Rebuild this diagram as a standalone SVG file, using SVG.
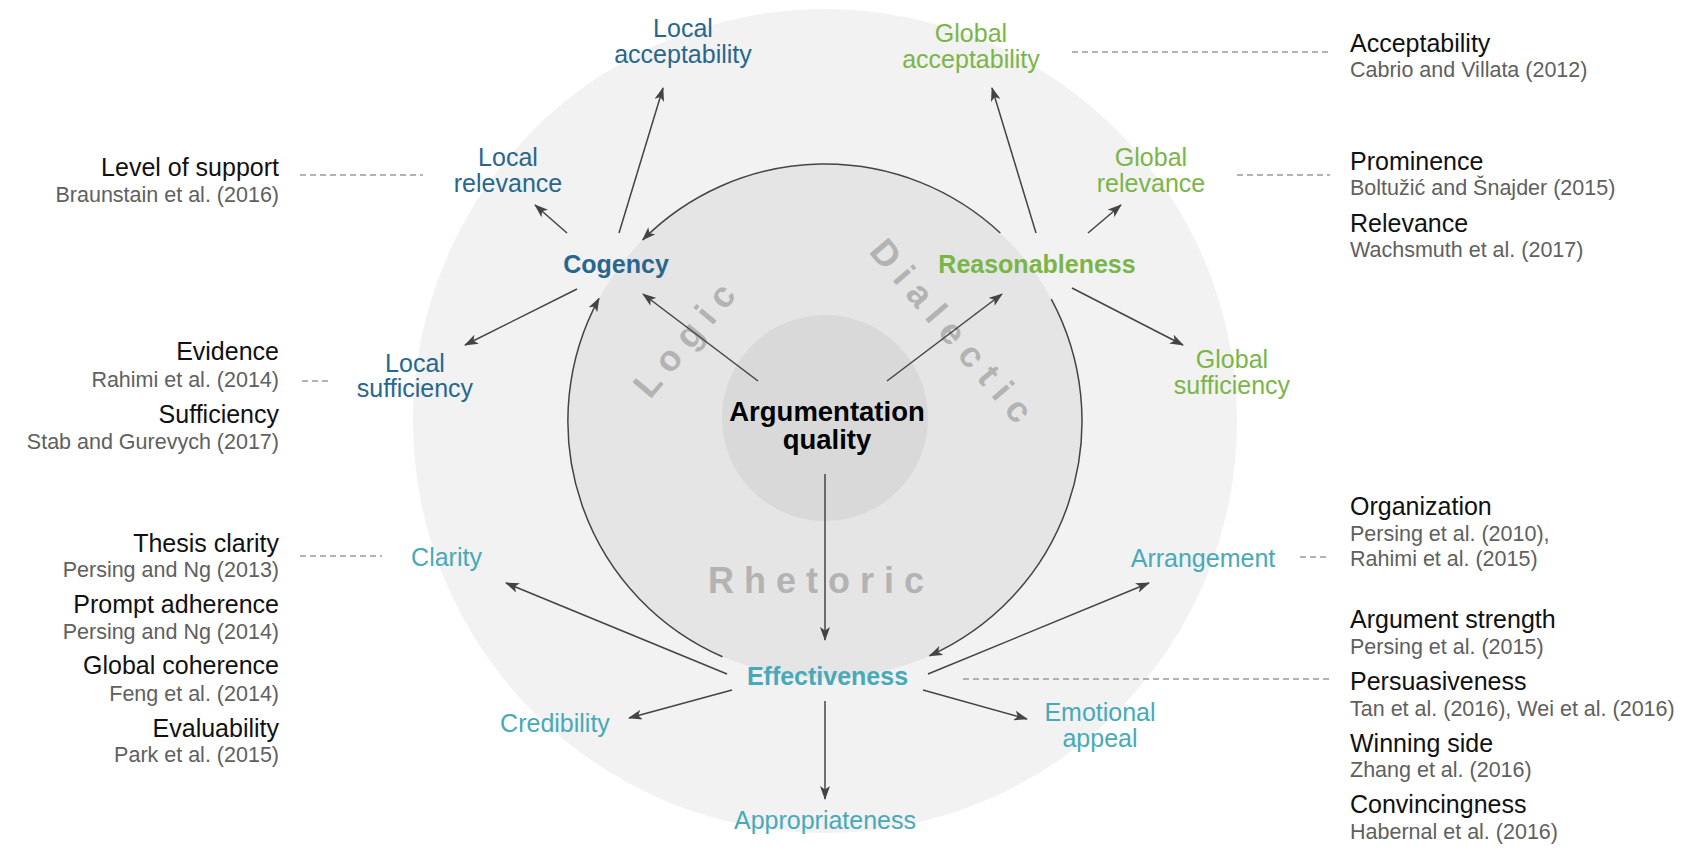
<svg xmlns="http://www.w3.org/2000/svg" width="1704" height="852" viewBox="0 0 1704 852">
<defs>
<style>
text{font-family:"Liberation Sans",Arial,Helvetica,sans-serif}
.lbl{font-size:25px;text-anchor:middle}
.b{font-weight:bold}
.lo{fill:#27678f}
.di{fill:#7ab548}
.rh{fill:#48a9b9}
.h{font-size:25px;fill:#111}
.c{font-size:21.5px;fill:#606060}
.e{text-anchor:end}
.arr{stroke:#444;stroke-width:1.5;fill:none;marker-end:url(#ah)}
.dash{stroke:#9a9a9a;stroke-width:1.5;stroke-dasharray:6 4;fill:none}
.wm{font-size:36px;font-weight:bold;fill:#b3b3b3;letter-spacing:10px}
</style>
<marker id="ah" viewBox="0 0 14 10" refX="13" refY="5" markerWidth="14" markerHeight="10" markerUnits="userSpaceOnUse" orient="auto">
<path d="M0,0 L14,5 L0,10 L3.5,5 z" fill="#444"/>
</marker>
</defs>
<rect width="1704" height="852" fill="#fff"/>
<g id="circles">
<circle cx="825" cy="421" r="412" fill="#f2f2f2"/>
<circle cx="825" cy="421" r="257" fill="#e5e5e5"/>
<circle cx="825" cy="418" r="103" fill="#d9d9d9"/>
</g>
<g id="dimension-labels">
<text class="wm" transform="translate(650,400) rotate(-50)">Logic</text>
<text class="wm" transform="translate(868,252) rotate(49.5)">Dialectic</text>
<text class="wm" x="708" y="593">Rhetoric</text>
</g>
<g id="connectors">
<path class="arr" d="M1000.3,233 A257,257 0 0 0 642.7,239.9"/>
<path class="arr" d="M722.5,656.7 A257,257 0 0 1 599,298.4"/>
<path class="arr" d="M1051.3,299.2 A257,257 0 0 1 929.5,655.8"/>
<line class="arr" x1="758" y1="381" x2="643" y2="294"/>
<line class="arr" x1="887" y1="381" x2="1002" y2="294"/>
<line class="arr" x1="825" y1="474" x2="825" y2="640"/>
<line class="arr" x1="619" y1="233" x2="663" y2="88"/>
<line class="arr" x1="567" y1="233" x2="535" y2="205"/>
<line class="arr" x1="577" y1="289" x2="465" y2="345"/>
<line class="arr" x1="1036" y1="233" x2="992" y2="88"/>
<line class="arr" x1="1088" y1="233" x2="1121" y2="205"/>
<line class="arr" x1="1072" y1="288" x2="1183" y2="345"/>
<line class="arr" x1="727" y1="674" x2="506" y2="583"/>
<line class="arr" x1="732" y1="690" x2="629" y2="718"/>
<line class="arr" x1="825" y1="701" x2="825" y2="799"/>
<line class="arr" x1="928" y1="674" x2="1149" y2="583"/>
<line class="arr" x1="923" y1="690" x2="1027" y2="719"/>
<line class="dash" x1="300" y1="175" x2="423" y2="175"/>
<line class="dash" x1="302" y1="381" x2="332" y2="381"/>
<line class="dash" x1="300" y1="556" x2="382" y2="556"/>
<line class="dash" x1="1072" y1="52" x2="1330" y2="52"/>
<line class="dash" x1="1237" y1="175" x2="1330" y2="175"/>
<line class="dash" x1="1300" y1="557" x2="1330" y2="557"/>
<line class="dash" x1="963" y1="679" x2="1330" y2="679"/>
</g>
<g id="argumentation-quality"><text class="lbl b" style="font-size:27.5px" fill="#000" x="827" y="420.5">Argumentation<tspan x="827" dy="28.5">quality</tspan></text></g>
<g id="cogency"><text class="lbl b lo" x="616" y="273">Cogency</text></g>
<g id="reasonableness"><text class="lbl b di" x="1037" y="273">Reasonableness</text></g>
<g id="effectiveness"><text class="lbl b rh" x="827.5" y="685">Effectiveness</text></g>
<g id="local-acceptability"><text class="lbl lo" x="683" y="37">Local<tspan x="683" dy="26">acceptability</tspan></text></g>
<g id="local-relevance"><text class="lbl lo" x="508" y="166">Local<tspan x="508" dy="25.5">relevance</tspan></text></g>
<g id="local-sufficiency"><text class="lbl lo" x="415" y="371.5">Local<tspan x="415" dy="25.5">sufficiency</tspan></text></g>
<g id="global-acceptability"><text class="lbl di" x="971" y="42">Global<tspan x="971" dy="25.5">acceptability</tspan></text></g>
<g id="global-relevance"><text class="lbl di" x="1151" y="166">Global<tspan x="1151" dy="25.5">relevance</tspan></text></g>
<g id="global-sufficiency"><text class="lbl di" x="1232" y="368">Global<tspan x="1232" dy="25.5">sufficiency</tspan></text></g>
<g id="clarity"><text class="lbl rh" x="446.5" y="566">Clarity</text></g>
<g id="credibility"><text class="lbl rh" x="555" y="731.5">Credibility</text></g>
<g id="appropriateness"><text class="lbl rh" x="825" y="829">Appropriateness</text></g>
<g id="arrangement"><text class="lbl rh" x="1203" y="566.5">Arrangement</text></g>
<g id="emotional-appeal"><text class="lbl rh" x="1100" y="721">Emotional<tspan x="1100" dy="25.5">appeal</tspan></text></g>
<g id="ref-level-of-support"><text class="h e" x="279" y="175.7">Level of support</text><text class="c e" x="279" y="201.7">Braunstain et al. (2016)</text></g>
<g id="ref-evidence"><text class="h e" x="279" y="360">Evidence</text><text class="c e" x="279" y="386.7">Rahimi et al. (2014)</text></g>
<g id="ref-sufficiency"><text class="h e" x="279" y="422.7">Sufficiency</text><text class="c e" x="279" y="448.5">Stab and Gurevych (2017)</text></g>
<g id="ref-thesis-clarity"><text class="h e" x="279" y="551.7">Thesis clarity</text><text class="c e" x="279" y="576.7">Persing and Ng (2013)</text></g>
<g id="ref-prompt-adherence"><text class="h e" x="279" y="613.3">Prompt adherence</text><text class="c e" x="279" y="639.3">Persing and Ng (2014)</text></g>
<g id="ref-global-coherence"><text class="h e" x="279" y="674.3">Global coherence</text><text class="c e" x="279" y="700.7">Feng et al. (2014)</text></g>
<g id="ref-evaluability"><text class="h e" x="279" y="736.7">Evaluability</text><text class="c e" x="279" y="761.7">Park et al. (2015)</text></g>
<g id="ref-acceptability"><text class="h" x="1350" y="52.3">Acceptability</text><text class="c" x="1350" y="77.3">Cabrio and Villata (2012)</text></g>
<g id="ref-prominence"><text class="h" x="1350" y="170">Prominence</text><text class="c" x="1350" y="195">Boltužić and Šnajder (2015)</text></g>
<g id="ref-relevance"><text class="h" x="1350" y="231.7">Relevance</text><text class="c" x="1350" y="256.7">Wachsmuth et al. (2017)</text></g>
<g id="ref-organization"><text class="h" x="1350" y="515">Organization</text><text class="c" x="1350" y="541">Persing et al. (2010),</text><text class="c" x="1350" y="566">Rahimi et al. (2015)</text></g>
<g id="ref-argument-strength"><text class="h" x="1350" y="628.3">Argument strength</text><text class="c" x="1350" y="654">Persing et al. (2015)</text></g>
<g id="ref-persuasiveness"><text class="h" x="1350" y="690">Persuasiveness</text><text class="c" x="1350" y="716">Tan et al. (2016), Wei et al. (2016)</text></g>
<g id="ref-winning-side"><text class="h" x="1350" y="751.7">Winning side</text><text class="c" x="1350" y="777.3">Zhang et al. (2016)</text></g>
<g id="ref-convincingness"><text class="h" x="1350" y="813.3">Convincingness</text><text class="c" x="1350" y="839.3">Habernal et al. (2016)</text></g>
</svg>
